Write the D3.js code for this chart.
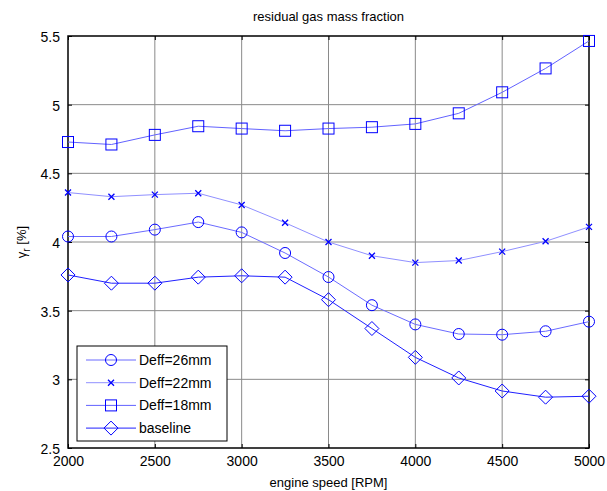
<!DOCTYPE html>
<html>
<head>
<meta charset="utf-8">
<script src="https://cdn.jsdelivr.net/npm/d3@7"></script>
<style>
  body { margin: 0; background: #fff; }
  text { font-family: "Liberation Sans", Arial, sans-serif; fill: #000; }
</style>
</head>
<body>
<div id="chart"></div>
<script>
// engine speeds (RPM)
var speeds = [2000, 2250, 2500, 2750, 3000, 3250, 3500, 3750, 4000, 4250, 4500, 4750, 5000];

// residual gas mass fraction [%]
var deff26 = [4.04, 4.04, 4.09, 4.145, 4.07, 3.92, 3.745, 3.54, 3.40, 3.33, 3.325, 3.35, 3.42];
var deff22 = [4.36, 4.33, 4.345, 4.355, 4.27, 4.14, 4.00, 3.90, 3.85, 3.865, 3.93, 4.005, 4.11];
var deff18 = [4.728, 4.71, 4.78, 4.843, 4.826, 4.81, 4.826, 4.836, 4.86, 4.937, 5.09, 5.264, 5.464];
var baseline = [3.76, 3.70, 3.70, 3.744, 3.754, 3.744, 3.58, 3.37, 3.16, 3.01, 2.915, 2.87, 2.877];

var xTicks = [2000, 2500, 3000, 3500, 4000, 4500, 5000];
var yTicks = [2.5, 3, 3.5, 4, 4.5, 5, 5.5];

var series = [
	{name: "Deff=26mm", values: deff26, marker: "circle", line: "#6b6bff"},
	{name: "Deff=22mm", values: deff22, marker: "x", line: "#9090ff"},
	{name: "Deff=18mm", values: deff18, marker: "square", line: "#6262ff"},
	{name: "baseline", values: baseline, marker: "diamond", line: "#2020ff"}
];

var width = 607, height = 491;
var plotLeft = 68, plotRight = 589, plotTop = 36, plotBottom = 448;

var svg = d3.select("#chart").append("svg")
	.attr("width", width)
	.attr("height", height);

var x = d3.scaleLinear().domain([2000, 5000]).range([plotLeft, plotRight]);
var y = d3.scaleLinear().domain([2.5, 5.5]).range([plotBottom, plotTop]);

// grid
svg.selectAll("line.gx")
	.data(xTicks.slice(1, -1))
	.enter().append("line")
	.attr("x1", function(d) { return x(d); })
	.attr("x2", function(d) { return x(d); })
	.attr("y1", plotTop).attr("y2", plotBottom)
	.attr("stroke", "#8a8a8a").attr("stroke-width", 1);

svg.selectAll("line.gy")
	.data(yTicks.slice(1, -1))
	.enter().append("line")
	.attr("y1", function(d) { return y(d); })
	.attr("y2", function(d) { return y(d); })
	.attr("x1", plotLeft).attr("x2", plotRight)
	.attr("stroke", "#8a8a8a").attr("stroke-width", 1);

// axes
var xAxis = d3.axisBottom(x).tickValues(xTicks).tickSize(-4).tickPadding(8).tickFormat(d3.format("d"));
var yAxis = d3.axisLeft(y).tickValues(yTicks).tickSize(-4).tickPadding(8).tickFormat(d3.format("~g"));

var gx = svg.append("g").attr("transform", "translate(0," + plotBottom + ")").call(xAxis);
var gy = svg.append("g").attr("transform", "translate(" + plotLeft + ",0)").call(yAxis);
svg.append("g").attr("transform", "translate(0," + plotTop + ")")
	.call(d3.axisTop(x).tickValues(xTicks).tickSize(-4).tickFormat(""));
svg.append("g").attr("transform", "translate(" + plotRight + ",0)")
	.call(d3.axisRight(y).tickValues(yTicks).tickSize(-4).tickFormat(""));

svg.selectAll(".domain").attr("stroke", "none");
svg.selectAll(".tick line").attr("stroke", "#000");
gx.selectAll("text").style("font-size", "14px");
gy.selectAll("text").style("font-size", "14px").attr("dy", "0.4em");

// box
svg.append("rect")
	.attr("x", plotLeft).attr("y", plotTop)
	.attr("width", plotRight - plotLeft).attr("height", plotBottom - plotTop)
	.attr("fill", "none").attr("stroke", "#000").attr("stroke-width", 1.5);

function drawMarker(g, type, cx, cy) {
	if (type === "circle") {
		g.append("circle").attr("cx", cx).attr("cy", cy).attr("r", 5.5)
			.attr("fill", "none").attr("stroke", "#0000ff").attr("stroke-width", 1);
	} else if (type === "square") {
		g.append("rect").attr("x", cx - 5.5).attr("y", cy - 5.5)
			.attr("width", 11).attr("height", 11)
			.attr("fill", "none").attr("stroke", "#0000ff").attr("stroke-width", 1);
	} else if (type === "diamond") {
		g.append("path")
			.attr("d", "M" + cx + "," + (cy - 7) + "L" + (cx + 7) + "," + cy + "L" + cx + "," + (cy + 7) + "L" + (cx - 7) + "," + cy + "Z")
			.attr("fill", "none").attr("stroke", "#0000ff").attr("stroke-width", 1);
	} else if (type === "x") {
		g.append("path")
			.attr("d", "M" + (cx - 3) + "," + (cy - 3) + "L" + (cx + 3) + "," + (cy + 3) + "M" + (cx + 3) + "," + (cy - 3) + "L" + (cx - 3) + "," + (cy + 3))
			.attr("stroke", "#0000ff").attr("stroke-width", 1.3);
	}
}

var line = d3.line()
	.x(function(d, i) { return x(speeds[i]); })
	.y(function(d) { return y(d); });

series.forEach(function(s) {
	var g = svg.append("g");
	g.append("path")
		.attr("d", line(s.values))
		.attr("fill", "none")
		.attr("stroke", s.line)
		.attr("stroke-width", 1);
	s.values.forEach(function(v, i) {
		drawMarker(g, s.marker, x(speeds[i]), y(v));
	});
});

// legend
var lg = svg.append("g");
lg.append("rect")
	.attr("x", 77).attr("y", 346)
	.attr("width", 150).attr("height", 95)
	.attr("fill", "#fff").attr("stroke", "#000").attr("stroke-width", 1);

series.forEach(function(s, i) {
	var ly = 360 + i * 22.7;
	lg.append("line")
		.attr("x1", 86).attr("x2", 136)
		.attr("y1", ly).attr("y2", ly)
		.attr("stroke", s.line).attr("stroke-width", 1);
	drawMarker(lg, s.marker, 111, ly);
	lg.append("text")
		.attr("x", 139).attr("y", ly + 5)
		.style("font-size", "14px")
		.text(s.name);
});

// titles
svg.append("text")
	.attr("x", (plotLeft + plotRight) / 2).attr("y", 21)
	.attr("text-anchor", "middle")
	.style("font-size", "13px")
	.text("residual gas mass fraction");

svg.append("text")
	.attr("x", (plotLeft + plotRight) / 2).attr("y", 487)
	.attr("text-anchor", "middle")
	.style("font-size", "13px")
	.text("engine speed [RPM]");

var yl = svg.append("text")
	.attr("transform", "translate(26," + ((plotTop + plotBottom) / 2) + ") rotate(-90)")
	.attr("text-anchor", "middle")
	.style("font-size", "13px");
yl.append("tspan").text("\u03b3");
yl.append("tspan").attr("dy", 4).style("font-size", "10px").text("r");
yl.append("tspan").attr("dy", -4).text(" [%]");
</script>
</body>
</html>
